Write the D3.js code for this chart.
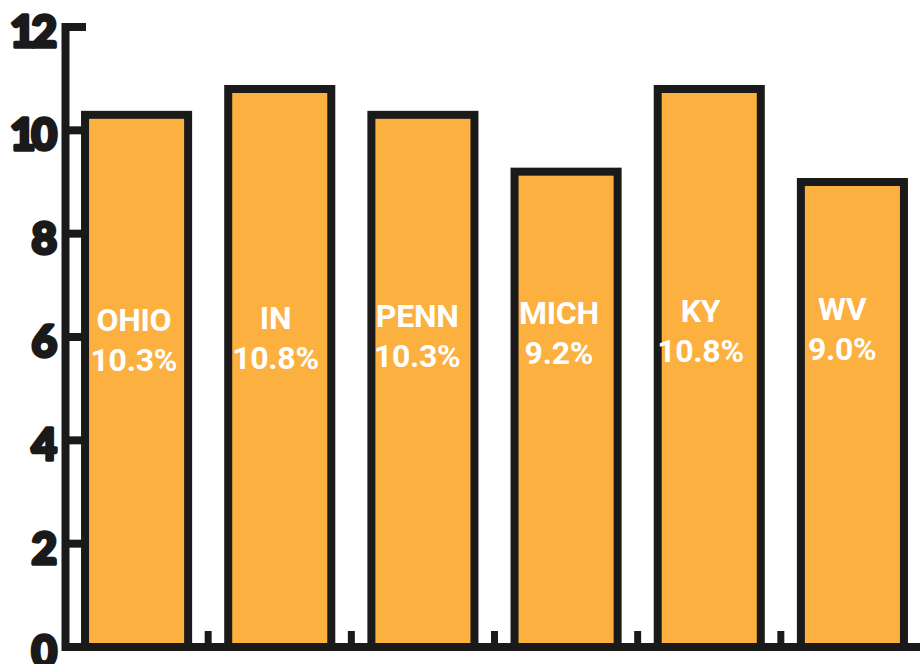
<!DOCTYPE html>
<html>
<head>
<meta charset="utf-8">
<script src="https://cdn.jsdelivr.net/npm/d3@7.9.0/dist/d3.min.js"></script>
<style>
  html, body { margin: 0; padding: 0; background: #fff; }
  svg { display: block; }
  .ylab { font-family: Lato, "DejaVu Sans", sans-serif; font-weight: 900; font-size: 44px; fill: #1a1a1a; stroke: #1a1a1a; stroke-width: 3.5px; stroke-linejoin: round; letter-spacing: -4px; }
  .barlab { font-family: Roboto, "Liberation Sans", sans-serif; font-weight: 700; font-size: 32px; fill: #fff; letter-spacing: -0.3px; }
</style>
</head>
<body>
<svg id="chart" width="920" height="664"></svg>
<script>
// states and their rates (percent)
const states = ['OHIO', 'IN', 'PENN', 'MICH', 'KY', 'WV'];
const rates = [10.3, 10.8, 10.3, 9.2, 10.8, 9.0];
const yTicks = [0, 2, 4, 6, 8, 10, 12];

const ink = '#1a1a1a';
const orange = '#fbb040';

const svg = d3.select('#chart');

const x = d3.scaleBand().domain(states).range([65, 924]).padding(0);
const y = d3.scaleLinear().domain([0, 12]).range([647, 27]);
// labels sit on a slightly tighter grid than the bars
const xLab = d3.scaleBand().domain(states).range([63, 913]).padding(0);
const yLab = d3.scaleLinear().domain([0, states.length - 1]).range([331, 320]);

const barW = x.bandwidth() * 0.72;

// y axis line
svg.append('line')
  .attr('x1', 65.5).attr('x2', 65.5)
  .attr('y1', 23).attr('y2', 651)
  .attr('stroke', ink).attr('stroke-width', 8);

// y ticks
svg.selectAll('.ytick')
  .data(yTicks.filter((d) => d > 0))
  .join('line')
  .attr('x1', 62).attr('x2', 86)
  .attr('y1', (d) => y(d)).attr('y2', (d) => y(d))
  .attr('stroke', ink).attr('stroke-width', 8);

svg.selectAll('.ylab')
  .data(yTicks)
  .join('text')
  .attr('class', 'ylab')
  .attr('x', 53)
  .attr('y', (d) => y(d) + 3)
  .attr('text-anchor', 'end')
  .attr('dominant-baseline', 'central')
  .text((d) => d);

// x axis baseline
svg.append('line')
  .attr('x1', 62).attr('x2', 920)
  .attr('y1', y(0)).attr('y2', y(0))
  .attr('stroke', ink).attr('stroke-width', 8);

// x ticks at band edges
svg.selectAll('.xtick')
  .data(states.slice(1))
  .join('line')
  .attr('x1', (d) => x(d)).attr('x2', (d) => x(d))
  .attr('y1', y(0)).attr('y2', y(0) - 16)
  .attr('stroke', ink).attr('stroke-width', 7);

// bars
svg.selectAll('.bar')
  .data(states)
  .join('rect')
  .attr('x', (d) => x(d) + (x.bandwidth() - barW) / 2)
  .attr('width', barW)
  .attr('y', (d, i) => y(rates[i]))
  .attr('height', (d, i) => y(0) - y(rates[i]))
  .attr('fill', orange)
  .attr('stroke', ink)
  .attr('stroke-width', 8);

// labels inside bars
const lab = svg.selectAll('.barlab')
  .data(states)
  .join('text')
  .attr('class', 'barlab')
  .attr('text-anchor', 'middle');

lab.append('tspan')
  .attr('x', (d) => xLab(d) + xLab.bandwidth() / 2)
  .attr('y', (d, i) => yLab(i))
  .text((d) => d);

lab.append('tspan')
  .attr('x', (d) => xLab(d) + xLab.bandwidth() / 2)
  .attr('y', (d, i) => yLab(i) + 40)
  .text((d, i) => rates[i].toFixed(1) + '%');
</script>
</body>
</html>
